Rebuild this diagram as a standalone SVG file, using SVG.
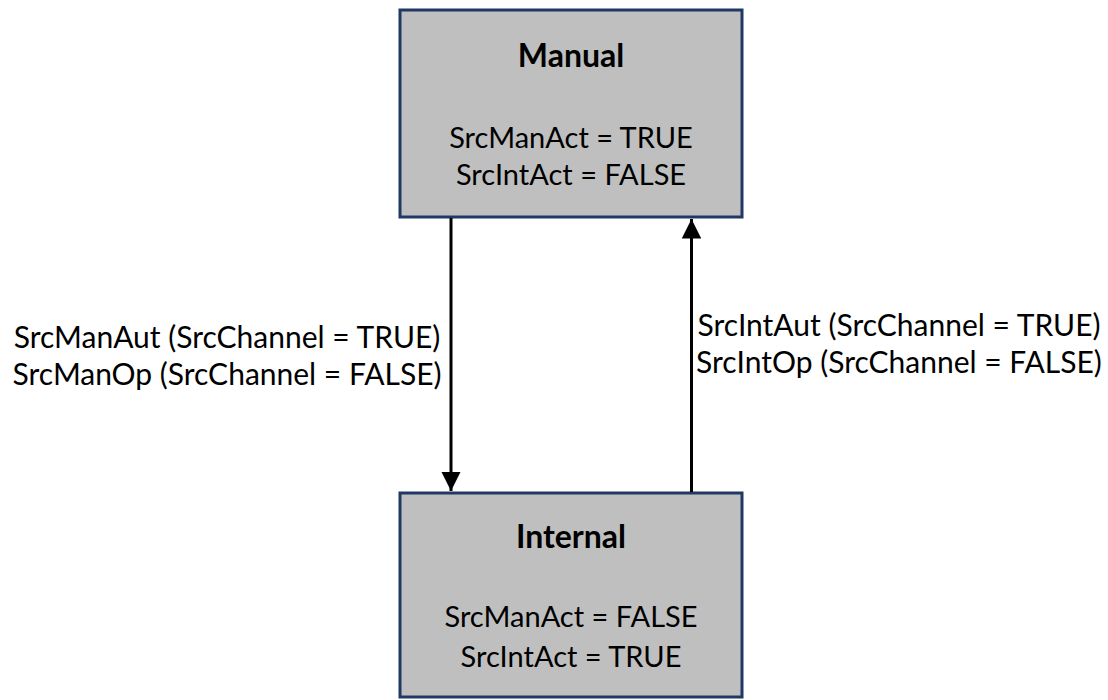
<svg xmlns="http://www.w3.org/2000/svg" width="1108" height="700" viewBox="0 0 1108 700">
<style>
.box{fill:#bfbfbf;stroke:#1f3864;stroke-width:3}
.t{font-family:Lato,"Noto Sans",sans-serif;font-size:29px;fill:#000;text-anchor:middle}
.l{font-size:30px}
.b{font-weight:bold;font-size:32px}
.c{stroke:#000;stroke-width:3;fill:none}
</style>
<defs>
<marker id="ah" viewBox="0 0 10 10" refX="10" refY="5" markerWidth="6.5" markerHeight="6.5" markerUnits="strokeWidth" orient="auto">
<path d="M0,0 L10,5 L0,10 Z" fill="#000"/>
</marker>
</defs>
<rect width="1108" height="700" fill="#fff"/>
<g id="manual">
<rect class="box" x="400" y="10" width="342" height="207"/>
<text class="t b" x="571" y="67">Manual</text>
<text class="t" x="571" y="148">SrcManAct = TRUE</text>
<text class="t" x="571" y="185">SrcIntAct = FALSE</text>
</g>
<g id="internal">
<rect class="box" x="400" y="493" width="342" height="204"/>
<text class="t b" x="571" y="548">Internal</text>
<text class="t" x="571" y="627">SrcManAct = FALSE</text>
<text class="t" x="571" y="667">SrcIntAct = TRUE</text>
</g>
<g id="connectors">
<line class="c" x1="451" y1="218" x2="451" y2="491" marker-end="url(#ah)"/>
<line class="c" x1="691.5" y1="492" x2="691.5" y2="219" marker-end="url(#ah)"/>
<text class="t l" x="227" y="348">SrcManAut (SrcChannel = TRUE)</text>
<text class="t l" x="227" y="385">SrcManOp (SrcChannel = FALSE)</text>
<text class="t l" x="899" y="336">SrcIntAut (SrcChannel = TRUE)</text>
<text class="t l" x="899" y="373">SrcIntOp (SrcChannel = FALSE)</text>
</g>
</svg>
